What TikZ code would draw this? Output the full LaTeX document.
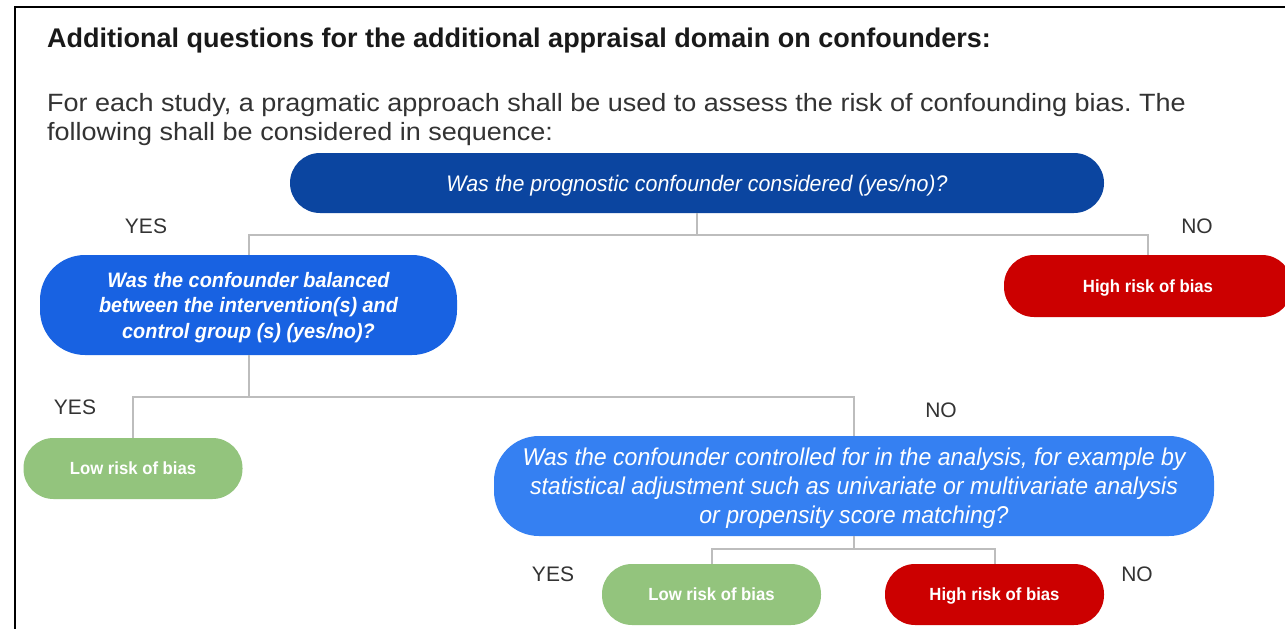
\documentclass[tikz,border=0pt]{standalone}
\usepackage{fontspec}
\setmainfont{Liberation Sans}
\newfontfamily\condfont[FakeStretch=0.95]{Liberation Sans}
\newfontfamily\widefont[FakeStretch=1.08]{Liberation Sans}
\usetikzlibrary{calc}
\definecolor{qdark}{HTML}{0B45A0}
\definecolor{qmid}{HTML}{1862E2}
\definecolor{qlight}{HTML}{3580F2}
\definecolor{hired}{HTML}{CC0000}
\definecolor{logreen}{HTML}{93C47D}
\definecolor{connc}{HTML}{BDBDBD}
\definecolor{txtc}{HTML}{333333}
\frenchspacing
\begin{document}
\begin{tikzpicture}[x=1pt,y=-1pt,
  qbox/.style={rounded corners=30pt, text=white, inner sep=0pt, text depth=0pt, align=center, font=\condfont\itshape\fontsize{22.5}{26}\selectfont},
  riskbox/.style={rounded corners=30pt, text=white, inner sep=0pt, text depth=0pt, align=center, minimum width=219pt, minimum height=61pt, font=\condfont\bfseries\fontsize{17.6}{20}\selectfont},
  conn/.style={draw=connc, line width=2pt},
  yn/.style={text=txtc, inner sep=0pt, font=\fontsize{21}{25}\selectfont},
  para/.style={anchor=base west, inner sep=0pt, text=txtc, font=\widefont\fontsize{25}{30}\selectfont}]
\clip (0,0) rectangle (1285,629);
\fill[white] (0,0) rectangle (1285,629);
\draw[line width=2pt] (1295,7) -- (15,7) -- (15,640);
\node[anchor=base west, inner sep=0pt, text=black!90, font=\bfseries\fontsize{27}{32}\selectfont] (title) at (47,47) {Additional questions for the additional appraisal domain on confounders:};
\node[para] (para1) at (47,111) {For each study, a pragmatic approach shall be used to assess the risk of confounding bias. The};
\node[para] (para2) at (47,140) {following shall be considered in sequence:};

\node[qbox, fill=qdark, minimum width=814pt, minimum height=60pt] (q1) at (697,183) {Was the prognostic confounder considered (yes/no)?};
\node[qbox, fill=qmid, rounded corners=45pt, minimum width=417pt, minimum height=100pt, font=\condfont\itshape\bfseries\fontsize{20.9}{25.5}\selectfont] (q2) at (248.5,305) {Was the confounder balanced\\between the intervention(s) and\\control group (s) (yes/no)?};
\node[riskbox, fill=hired, minimum width=288pt, minimum height=62pt] (hr1) at (1148,286) {High risk of bias};
\node[riskbox, fill=logreen] (lr1) at (133,468.5) {Low risk of bias};
\node[qbox, fill=qlight, rounded corners=45pt, minimum width=720pt, minimum height=100pt, font=\condfont\itshape\fontsize{24.3}{29}\selectfont] (q3) at (854,486) {Was the confounder controlled for in the analysis, for example by\\statistical adjustment such as univariate or multivariate analysis\\or propensity score matching?};
\node[riskbox, fill=logreen] (lr2) at (711.5,594.5) {Low risk of bias};
\node[riskbox, fill=hired] (hr2) at (994.5,594.5) {High risk of bias};

\coordinate (j1) at ($(q1.south)+(0,22)$);
\coordinate (j2) at ($(q2.south)+(0,42)$);
\coordinate (j3) at ($(q3.south)+(0,13)$);
\draw[conn] (q1.south) -- (j1);
\draw[conn] (q2.north) |- (j1) -| (hr1.north);
\draw[conn] (q2.south) -- (j2);
\draw[conn] (lr1.north) |- (j2) -| (q3.north);
\draw[conn] (q3.south) -- (j3);
\draw[conn] (lr2.north) |- (j3) -| (hr2.north);

\node[yn] (yes1) at (146,226) {YES};
\node[yn] (no1) at (1197,226) {NO};
\node[yn] (yes2) at (75,407) {YES};
\node[yn] (no2) at (941,410) {NO};
\node[yn] (yes3) at (553,574) {YES};
\node[yn] (no3) at (1137,574) {NO};
\end{tikzpicture}
\end{document}
